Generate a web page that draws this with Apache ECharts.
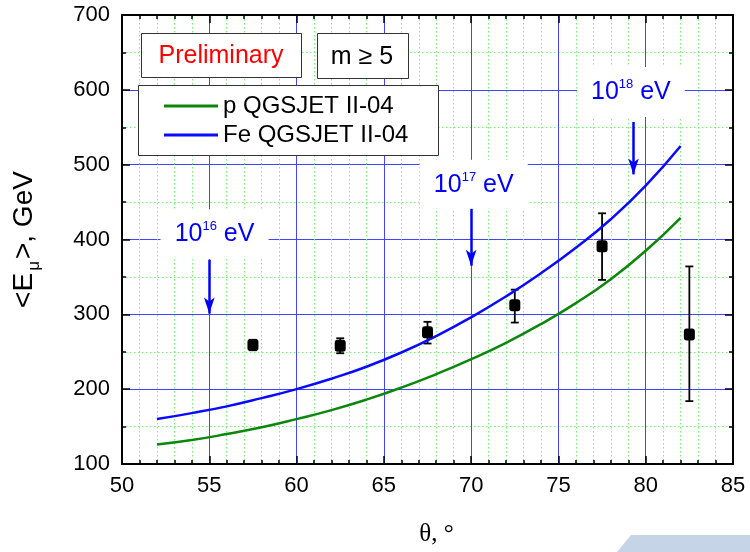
<!DOCTYPE html>
<html>
<head>
<meta charset="utf-8">
<script src="https://cdn.jsdelivr.net/npm/echarts@6/dist/echarts.min.js"></script>
<style>
html, body { margin: 0; padding: 0; background: #fff; }
#container { width: 750px; height: 552px; }
</style>
</head>
<body>
<div id="container"></div>
<script>
// model curves
var fitAngles = [52, 54, 56, 58, 60, 62, 64, 66, 68, 70, 72, 74, 76, 78, 80, 82];
var protonMean = [126, 132, 140, 149, 160, 172, 186, 202, 220, 240, 262, 287, 315, 347, 385, 429];
var ironMean = [160, 168, 177, 188, 200, 214, 230, 249, 271, 296, 324, 355, 389, 427, 472, 525];

// measured points
var dataAngles = [57.5, 62.5, 67.5, 72.5, 77.5, 82.5];
var dataMean = [259, 258, 276, 312, 391, 273];
var dataLow = [252, 248, 261, 289, 346, 184];
var dataHigh = [266, 268, 290, 333, 435, 364];

// energy marks
var energyPowers = ['16', '17', '18'];
var energyLabelAngle = [55.3, 70.15, 79.15];
var energyLabelValue = [407, 473, 597];
var arrowAngle = [55, 70, 79.3];
var arrowFrom = [373, 441, 557];
var arrowTo = [301, 365, 487];

var font = 'Liberation Sans, Arial, sans-serif';

var myChart = echarts.init(document.getElementById('container'));

function zip(a, b) {
    var out = [];
    for (var i = 0; i < a.length; i++) out.push([a[i], b[i]]);
    return out;
}

var errData = [];
for (var i = 0; i < dataAngles.length; i++) {
    errData.push([dataAngles[i], dataLow[i], dataHigh[i]]);
}

var markData = [];
var arrowData = [];
for (var j = 0; j < energyPowers.length; j++) {
    markData.push([energyLabelAngle[j], energyLabelValue[j], energyPowers[j]]);
    arrowData.push([
        { coord: [arrowAngle[j], arrowFrom[j]], symbol: 'none' },
        { coord: [arrowAngle[j], arrowTo[j]], symbol: 'arrow', symbolSize: [8, 16] }
    ]);
}

function renderErr(params, api) {
    var x = api.value(0);
    var lo = api.coord([x, api.value(1)]);
    var hi = api.coord([x, api.value(2)]);
    var w = 4;
    var st = { stroke: '#000', lineWidth: 1.8 };
    return {
        type: 'group',
        children: [
            { type: 'line', shape: { x1: lo[0], y1: lo[1], x2: hi[0], y2: hi[1] }, style: st },
            { type: 'line', shape: { x1: lo[0] - w, y1: lo[1], x2: lo[0] + w, y2: lo[1] }, style: st },
            { type: 'line', shape: { x1: hi[0] - w, y1: hi[1], x2: hi[0] + w, y2: hi[1] }, style: st }
        ]
    };
}

var tickStyle = { color: '#000', width: 1.5 };

option = {
    animation: false,
    backgroundColor: '#fff',
    textStyle: { fontFamily: font },
    grid: { left: 122, right: 17, top: 15, bottom: 87 },
    legend: {
        data: ['p QGSJET II-04', 'Fe QGSJET II-04'],
        orient: 'vertical',
        left: 164,
        top: 94,
        padding: 0,
        itemGap: 5,
        icon: 'rect',
        itemWidth: 54,
        itemHeight: 3,
        selectedMode: false,
        z: 6,
        textStyle: { fontSize: 24, lineHeight: 24, color: '#000', fontFamily: font }
    },
    graphic: [
        {
            type: 'polygon', z: 1,
            shape: { points: [[631, 535], [750, 535], [750, 552], [617, 552]] },
            style: { fill: '#c6d4e8' }
        },
        {
            type: 'rect', z: 4,
            shape: { x: 138.5, y: 85.5, width: 300, height: 70 },
            style: { fill: '#fff', stroke: '#333', lineWidth: 1 }
        },
        {
            type: 'rect', z: 4,
            shape: { x: 141.5, y: 33.5, width: 160, height: 44 },
            style: { fill: '#fff', stroke: '#333', lineWidth: 1 }
        },
        {
            type: 'text', z: 5, x: 221, y: 56,
            style: { text: 'Preliminary', fill: '#ff0000', font: '25px ' + font, align: 'center', verticalAlign: 'middle' }
        },
        {
            type: 'rect', z: 4,
            shape: { x: 317.5, y: 33.5, width: 91, height: 45 },
            style: { fill: '#fff', stroke: '#333', lineWidth: 1 }
        },
        {
            type: 'text', z: 5, x: 362, y: 57,
            style: { text: 'm \u2265 5', fill: '#000', font: '25px ' + font, align: 'center', verticalAlign: 'middle' }
        }
    ],
    xAxis: [{
        type: 'value',
        min: 50,
        max: 85,
        interval: 5,
        position: 'bottom',
        name: '\u03b8, \u00b0',
        nameLocation: 'middle',
        nameGap: 58,
        nameTextStyle: { fontFamily: 'Liberation Serif, Times New Roman, serif', fontSize: 25, color: '#000', padding: [0, 0, 0, 18] },
        axisLine: { lineStyle: { color: '#000', width: 2 } },
        axisTick: { inside: true, length: 8, lineStyle: tickStyle },
        minorTick: { show: true, splitNumber: 5, length: 4, lineStyle: tickStyle },
        axisLabel: { fontSize: 22, color: '#000', margin: 11, fontFamily: font },
        splitLine: { show: true, lineStyle: { color: '#4444ff', width: 1 } },
        minorSplitLine: { show: true, lineStyle: { color: '#77ee77', width: 1, type: [1.5, 2.5] } }
    }, {
        type: 'value',
        min: 50,
        max: 85,
        interval: 5,
        position: 'top',
        axisLine: { lineStyle: { color: '#000', width: 2 } },
        axisTick: { inside: true, length: 8, lineStyle: tickStyle },
        minorTick: { show: true, splitNumber: 5, length: 4, lineStyle: tickStyle },
        axisLabel: { show: false },
        splitLine: { show: false }
    }],
    yAxis: [{
        type: 'value',
        min: 100,
        max: 700,
        interval: 100,
        position: 'left',
        name: '<E{s|\u03bc}>, GeV',
        nameLocation: 'middle',
        nameRotate: 90,
        nameGap: 112,
        nameTextStyle: {
            fontSize: 28, color: '#000', fontFamily: font, lineHeight: 28, verticalAlign: 'top',
            rich: { s: { fontSize: 17, lineHeight: 17, verticalAlign: 'top', padding: [16, 2, 0, 2], color: '#000', fontFamily: font } }
        },
        axisLine: { lineStyle: { color: '#000', width: 2 } },
        axisTick: { inside: true, length: 8, lineStyle: tickStyle },
        minorTick: { show: true, splitNumber: 2, length: 4, lineStyle: tickStyle },
        axisLabel: { fontSize: 22, color: '#000', margin: 12, fontFamily: font },
        splitLine: { show: true, lineStyle: { color: '#4444ff', width: 1 } },
        minorSplitLine: { show: true, lineStyle: { color: '#77ee77', width: 1, type: [1.5, 2.5] } }
    }, {
        type: 'value',
        min: 100,
        max: 700,
        interval: 100,
        position: 'right',
        axisLine: { lineStyle: { color: '#000', width: 2 } },
        axisTick: { inside: true, length: 8, lineStyle: tickStyle },
        minorTick: { show: true, splitNumber: 2, length: 4, lineStyle: tickStyle },
        axisLabel: { show: false },
        splitLine: { show: false }
    }],
    series: [{
        name: 'p QGSJET II-04',
        type: 'line',
        smooth: true,
        symbol: 'none',
        lineStyle: { color: '#0b870b', width: 2.5 },
        itemStyle: { color: '#0b870b' },
        data: zip(fitAngles, protonMean)
    }, {
        name: 'Fe QGSJET II-04',
        type: 'line',
        smooth: true,
        symbol: 'none',
        lineStyle: { color: '#0a0aff', width: 2.5 },
        itemStyle: { color: '#0a0aff' },
        data: zip(fitAngles, ironMean)
    }, {
        name: 'errors',
        type: 'custom',
        renderItem: renderErr,
        z: 3,
        data: errData
    }, {
        name: 'data',
        type: 'scatter',
        symbol: 'roundRect',
        symbolSize: [11, 12],
        itemStyle: { color: '#000', opacity: 1 },
        z: 4,
        data: zip(dataAngles, dataMean)
    }, {
        name: 'energy',
        type: 'scatter',
        symbolSize: 0,
        silent: true,
        z: 3,
        itemStyle: { opacity: 1 },
        label: {
            show: true,
            position: 'inside',
            backgroundColor: '#fff',
            width: 108,
            padding: [11, 0],
            align: 'center',
            verticalAlign: 'middle',
            formatter: function (p) {
                return '{a|10}{s|' + p.data[2] + '}{a| eV}';
            },
            rich: {
                a: { fontSize: 25, lineHeight: 28, color: '#0000ff', align: 'center', fontFamily: font },
                s: { fontSize: 13, lineHeight: 13, color: '#0000ff', verticalAlign: 'top', align: 'center', fontFamily: font }
            }
        },
        markLine: {
            silent: true,
            animation: false,
            label: { show: false },
            lineStyle: { color: '#0000ff', width: 2.5, type: 'solid' },
            data: arrowData
        },
        data: markData
    }]
};

myChart.setOption(option);
</script>
</body>
</html>
